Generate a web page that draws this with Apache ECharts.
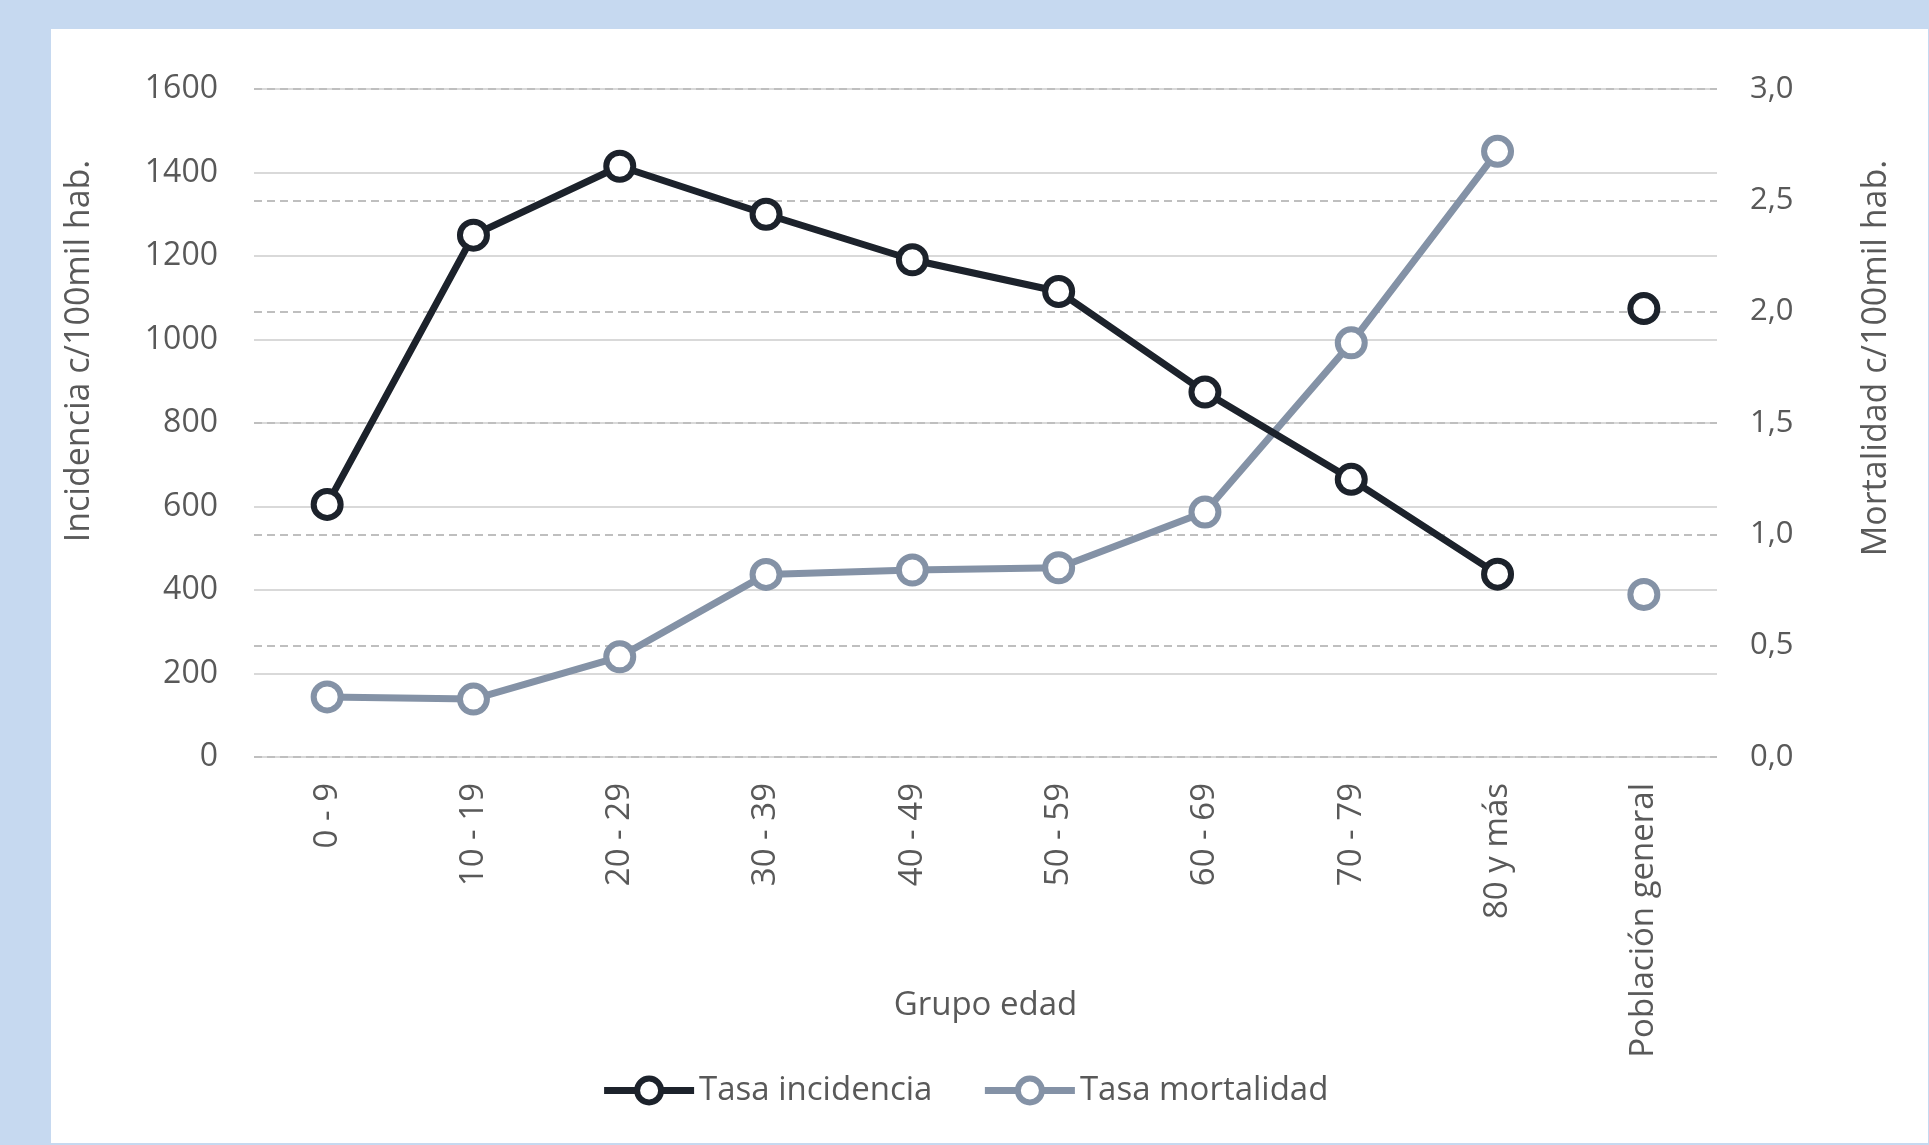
<!DOCTYPE html>
<html>
<head>
<meta charset="utf-8">
<script src="https://cdn.jsdelivr.net/npm/echarts@6/dist/echarts.min.js"></script>
<style>
html,body{margin:0;padding:0;background:#C6D9F0;}
#chart{width:1929px;height:1145px;}
</style>
</head>
<body>
<div id="chart"></div>
<script>
var categories = ['0 - 9','10 - 19','20 - 29','30 - 39','40 - 49','50 - 59','60 - 69','70 - 79','80 y más','Población general'];
var incidenceByAge = [605, 1250, 1415, 1300, 1191, 1115, 874, 665, 438];
var incidenceGeneral = 1074;
var mortalityByAge = [0.27, 0.26, 0.45, 0.82, 0.84, 0.85, 1.10, 1.86, 2.72];
var mortalityGeneral = 0.73;
var leftTicks = {min: 0, max: 1600, interval: 200};
var rightTicks = {min: 0, max: 3, interval: 0.5};

var darkColor = '#1c222b';
var grayColor = '#8492a6';
var textColor = '#595959';
var fontFam = '"Open Sans", "DejaVu Sans", sans-serif';

function withGap(arr) { return arr.concat(['-']); }
function onlyLast(v, n) { var a = []; for (var i = 0; i < n - 1; i++) a.push('-'); a.push(v); return a; }

var chart = echarts.init(document.getElementById('chart'));
var lineSeries = function(name, data, color, axisIdx, z) {
  return {
    name: name, type: 'line', yAxisIndex: axisIdx, data: data, z: z,
    symbol: 'circle', symbolSize: 27, showAllSymbol: true,
    lineStyle: {color: color, width: 7},
    itemStyle: {color: '#ffffff', borderColor: color, borderWidth: 6},
    emphasis: {disabled: true}
  };
};
chart.setOption({
  backgroundColor: '#C6D9F0',
  animation: false,
  graphic: [
    {type: 'rect', z: -10, shape: {x: 51, y: 29, width: 1877, height: 1114}, style: {fill: '#ffffff'}},
    {type: 'text', z: 10, x: 79, y: 351, rotation: Math.PI / 2,
     style: {text: 'Incidencia c/100mil hab.', fill: textColor, font: '34px ' + fontFam, align: 'center', verticalAlign: 'middle'}},
    {type: 'text', z: 10, x: 1876, y: 358, rotation: Math.PI / 2,
     style: {text: 'Mortalidad c/100mil hab.', fill: textColor, font: '34px ' + fontFam, align: 'center', verticalAlign: 'middle'}}
  ],
  legend: {
    data: ['Tasa incidencia', 'Tasa mortalidad'],
    bottom: 33, left: 'center',
    itemWidth: 90, itemHeight: 30, itemGap: 49,
    lineStyle: {width: 7},
    itemStyle: {borderWidth: 6},
    textStyle: {color: textColor, fontSize: 33, fontFamily: fontFam, padding: [0, 0, 0, 0]}
  },
  grid: {left: 254, right: 212, top: 89, bottom: 388},
  xAxis: {
    type: 'category', data: categories, boundaryGap: true,
    name: 'Grupo edad', nameLocation: 'middle', nameGap: 232, nameMoveOverlap: false,
    nameTextStyle: {color: textColor, fontSize: 33, fontFamily: fontFam},
    axisLine: {show: false}, axisTick: {show: false},
    axisLabel: {rotate: 90, color: textColor, fontSize: 33, fontFamily: fontFam, margin: 26, interval: 0}
  },
  yAxis: [
    {type: 'value', min: leftTicks.min, max: leftTicks.max, interval: leftTicks.interval,
     axisLine: {show: false}, axisTick: {show: false},
     axisLabel: {color: textColor, fontSize: 32, fontFamily: fontFam, margin: 36,
       formatter: function(v) { return String(v); }},
     splitLine: {lineStyle: {color: '#d9d9d9', width: 2, type: 'solid'}}},
    {type: 'value', min: rightTicks.min, max: rightTicks.max, interval: rightTicks.interval,
     axisLine: {show: false}, axisTick: {show: false},
     axisLabel: {color: textColor, fontSize: 31, fontFamily: fontFam, margin: 33,
       formatter: function(v) { return v.toFixed(1).replace('.', ','); }},
     splitLine: {lineStyle: {color: '#bfbfbf', width: 2, type: [8, 5]}}}
  ],
  series: [
    lineSeries('Tasa incidencia', withGap(incidenceByAge), darkColor, 0, 3),
    lineSeries('Tasa mortalidad', withGap(mortalityByAge), grayColor, 1, 2),
    lineSeries('Incidencia general', onlyLast(incidenceGeneral, categories.length), darkColor, 0, 3),
    lineSeries('Mortalidad general', onlyLast(mortalityGeneral, categories.length), grayColor, 1, 2)
  ]
});
</script>
</body>
</html>
